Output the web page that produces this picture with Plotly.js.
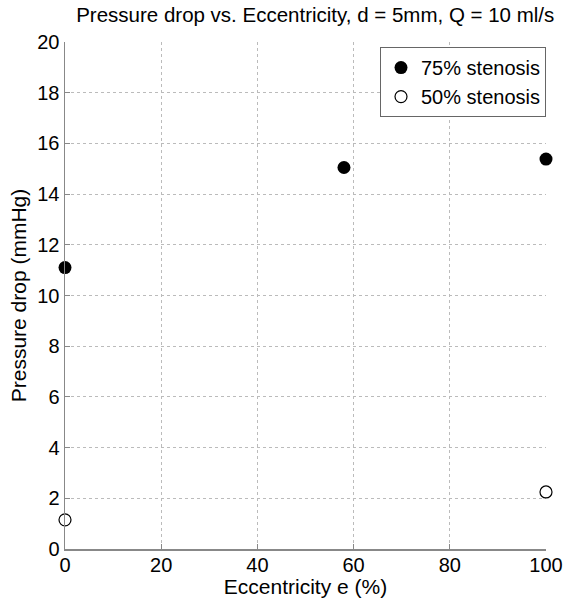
<!DOCTYPE html>
<html><head><meta charset="utf-8">
<script src="https://cdn.plot.ly/plotly-3.0.1.min.js"></script>
<style>body{margin:0;background:#fff}</style>
</head><body>
<div id="chart" style="width:568px;height:600px"></div>
<script>
const ecc75 = [0, 58, 100];
const dp75 = [11.1, 15.05, 15.38];
const ecc50 = [0, 100];
const dp50 = [1.15, 2.25];
const seriesNames = ['75% stenosis', '50% stenosis'];

const font = 'Liberation Sans, Arial, sans-serif';
const traces = [
  {x: ecc75, y: dp75, name: seriesNames[0], mode: 'markers', type: 'scatter', cliponaxis: false,
   marker: {symbol: 'circle', size: 13, color: '#000'}},
  {x: ecc50, y: dp50, name: seriesNames[1], mode: 'markers', type: 'scatter', cliponaxis: false,
   marker: {symbol: 'circle-open', size: 12, color: '#000', line: {width: 1.2, color: '#000'}}}
];
const axisCommon = {
  showline: true, linecolor: '#888', linewidth: 1.5, mirror: false,
  ticks: 'inside', ticklen: 5, tickcolor: '#888', tickwidth: 1,
  showgrid: true, gridcolor: '#bbb', griddash: 'dot', gridwidth: 1,
  zeroline: false, tickfont: {family: font, size: 20, color: '#000'}
};
const layout = {
  width: 568, height: 600,
  margin: {l: 65, r: 22, t: 42, b: 51},
  paper_bgcolor: '#fff', plot_bgcolor: '#fff',
  title: {text: 'Pressure drop vs. Eccentricity, d = 5mm, Q = 10 ml/s', font: {family: font, size: 20.5, color: '#000'},
          x: 0.555, xanchor: 'center', y: 0.975, yanchor: 'middle'},
  xaxis: Object.assign({}, axisCommon, {range: [0, 100], tickvals: [0, 20, 40, 60, 80, 100], ticklabelstandoff: -3,
    title: {text: 'Eccentricity e (%)', font: {family: font, size: 21, color: '#000'}, standoff: 0}}),
  yaxis: Object.assign({}, axisCommon, {range: [0, 20], tickvals: [0, 2, 4, 6, 8, 10, 12, 14, 16, 18, 20],
    title: {text: 'Pressure drop (mmHg)', font: {family: font, size: 21, color: '#000'}, standoff: 5}}),
  showlegend: true,
  legend: {x: 1, xanchor: 'right', y: 0.99, yanchor: 'top', bgcolor: '#fff',
    bordercolor: '#666', borderwidth: 1, font: {family: font, size: 20, color: '#000'},
    itemwidth: 30, tracegroupgap: 0}
};
Plotly.newPlot('chart', traces, layout, {displayModeBar: false, staticPlot: true});
</script>
</body></html>
